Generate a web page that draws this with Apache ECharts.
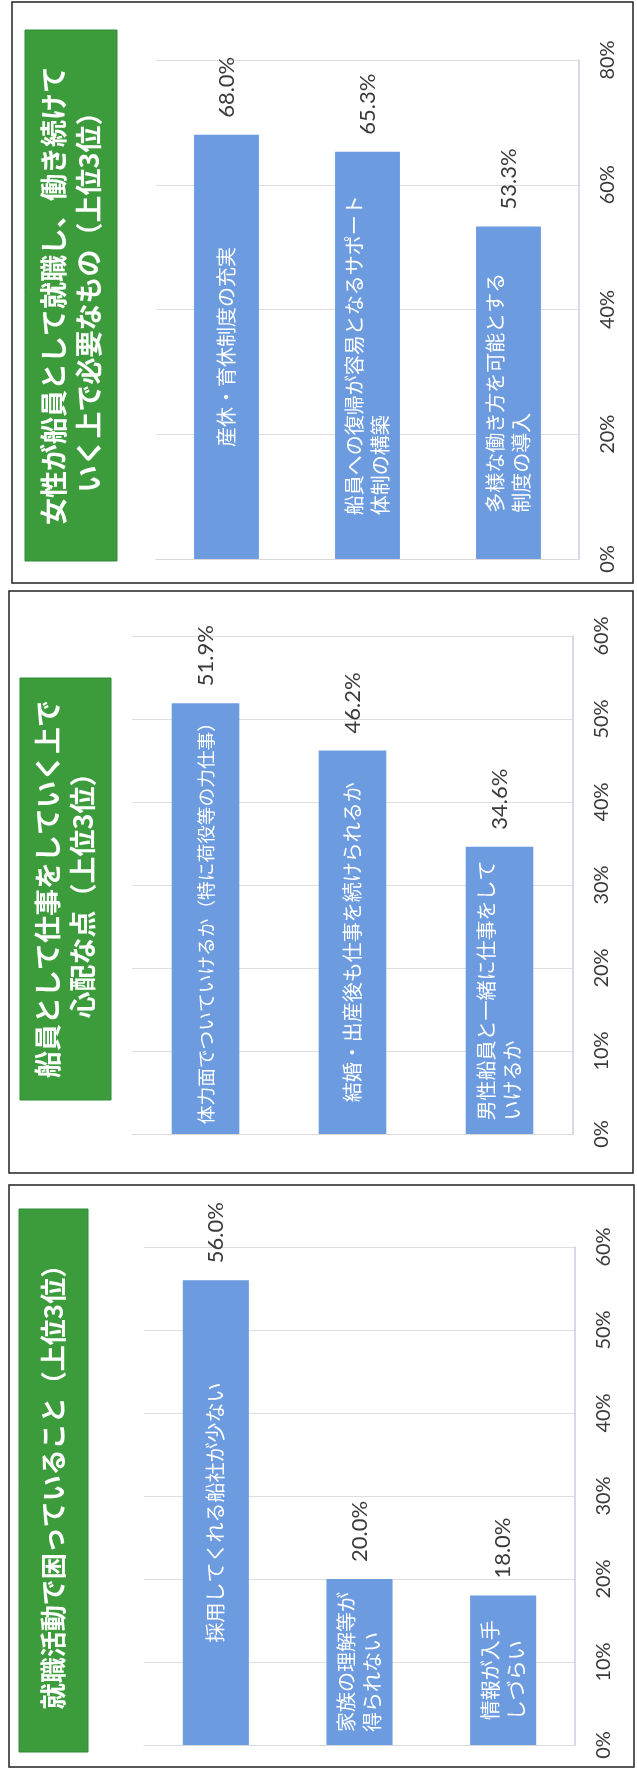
<!DOCTYPE html>
<html>
<head>
<meta charset="utf-8">
<script src="https://cdn.jsdelivr.net/npm/echarts@6/dist/echarts.min.js"></script>
<style>
html,body{margin:0;padding:0;background:#ffffff;}
#chart{width:637px;height:1775px;}
</style>
</head>
<body>
<div id="chart"></div>
<script>
// ---------- data ----------
const panel1Title = '女性が船員として就職し、働き続けて\nいく上で必要なもの（上位3位）';
const panel1Categories = ['産休・育休制度の充実', '船員への復帰が容易となるサポート\n体制の構築', '多様な働き方を可能とする\n制度の導入'];
const panel1Values = [68.0, 65.3, 53.3];
const panel1AxisMax = 80, panel1AxisStep = 20;

const panel2Title = '船員として仕事をしていく上で\n心配な点（上位3位）';
const panel2Categories = ['体力面でついていけるか（特に荷役等の力仕事）', '結婚・出産後も仕事を続けられるか', '男性船員と一緒に仕事をして\nいけるか'];
const panel2Values = [51.9, 46.2, 34.6];
const panel2AxisMax = 60, panel2AxisStep = 10;

const panel3Title = '就職活動で困っていること（上位3位）';
const panel3Categories = ['採用してくれる船社が少ない', '家族の理解等が\n得られない', '情報が入手\nしづらい'];
const panel3Values = [56.0, 20.0, 18.0];
const panel3AxisMax = 60, panel3AxisStep = 10;

// ---------- layout / style ----------
const W = 637, H = 1775;
const layout = [
  { border: [12, 2, 621, 581], box: [25, 30, 92, 531], titleSize: 27, grid: { left: 156, right: 58, top: 60, bottom: H - 559 } },
  { border: [9, 591, 624, 582], box: [20, 678, 91, 422], titleSize: 27, grid: { left: 132, right: 64, top: 636, bottom: H - 1134 } },
  { border: [9, 1185, 625, 582], box: [19, 1209, 69, 543], titleSize: 26, grid: { left: 144, right: 62, top: 1247, bottom: H - 1745 } }
];
const panels = [
  { title: panel1Title, cats: panel1Categories, vals: panel1Values, max: panel1AxisMax, step: panel1AxisStep },
  { title: panel2Title, cats: panel2Categories, vals: panel2Values, max: panel2AxisMax, step: panel2AxisStep },
  { title: panel3Title, cats: panel3Categories, vals: panel3Values, max: panel3AxisMax, step: panel3AxisStep }
];

const BAR_COLOR = '#6c9be0';
const GREEN = '#3c9c3c';
const CAT_FONT_SIZE = 20;
const CAT_FONT = '"Noto Sans CJK JP", sans-serif';
const NUM_FONT = 'Lato, "Open Sans", sans-serif';

const measureCanvas = document.createElement('canvas').getContext('2d');
function longestLine(text, size) {
  measureCanvas.font = size + 'px ' + CAT_FONT;
  return Math.max.apply(null, text.split('\n').map(l => measureCanvas.measureText(l).width));
}

const grids = [], xAxes = [], yAxes = [], series = [], graphics = [];

panels.forEach((p, i) => {
  const L = layout[i];
  grids.push(Object.assign({ containLabel: false }, L.grid));
  const gridH = H - L.grid.top - L.grid.bottom;

  xAxes.push({
    type: 'category', gridIndex: i, data: p.cats,
    axisTick: { show: false }, axisLabel: { show: false },
    axisLine: { show: true, lineStyle: { color: '#d9d9d9', width: 1 } }
  });
  yAxes.push({
    type: 'value', gridIndex: i, position: 'right', min: 0, max: p.max, interval: p.step,
    axisLine: { show: true, lineStyle: { color: '#c9cbe9', width: 1.5 } },
    axisTick: { show: false },
    splitLine: { show: true, lineStyle: { color: '#dedede', width: 1 } },
    axisLabel: {
      show: true, rotate: 90, margin: 19, align: 'center', verticalAlign: 'top',
      formatter: '{value}%', fontSize: 20, color: '#3a3a3a', fontFamily: NUM_FONT
    }
  });

  // bars with category text inside, centred along each bar (font shrinks to fit if needed)
  series.push({
    type: 'bar', xAxisIndex: i, yAxisIndex: i,
    barGap: '-100%', barCategoryGap: '54%',
    itemStyle: { color: BAR_COLOR },
    data: p.vals.map((v, k) => {
      const barLen = v / p.max * gridH;
      let size = CAT_FONT_SIZE;
      let w = longestLine(p.cats[k], size);
      if (w > barLen - 18) { size = Math.floor(size * (barLen - 18) / w * 10) / 10; w = longestLine(p.cats[k], size); }
      const d = Math.max(4, (barLen - w) / 2);
      return { value: v, label: { distance: d, fontSize: size } };
    }),
    label: {
      show: true, position: 'insideBottom', rotate: 90, align: 'left', verticalAlign: 'middle',
      formatter: prm => p.cats[prm.dataIndex],
      color: '#ffffff', fontSize: CAT_FONT_SIZE, lineHeight: 26, fontFamily: CAT_FONT
    },
    silent: true
  });
  // value labels above the bars
  series.push({
    type: 'bar', xAxisIndex: i, yAxisIndex: i,
    barGap: '-100%', barCategoryGap: '54%',
    itemStyle: { color: 'rgba(0,0,0,0)' },
    data: p.vals,
    label: {
      show: true, position: 'top', distance: 17, rotate: 90, align: 'left', verticalAlign: 'middle',
      formatter: prm => prm.value.toFixed(1) + '%',
      color: '#3a3a3a', fontSize: 22, fontFamily: NUM_FONT
    },
    silent: true
  });

  // panel frame
  graphics.push({
    type: 'rect', shape: { x: L.border[0], y: L.border[1], width: L.border[2], height: L.border[3] },
    style: { fill: 'none', stroke: '#222222', lineWidth: 1.5 }, z: 10
  });
  // green title box
  graphics.push({
    type: 'rect', shape: { x: L.box[0], y: L.box[1], width: L.box[2], height: L.box[3] },
    style: { fill: GREEN, stroke: '#2f8a36', lineWidth: 1 }, z: 10
  });
  graphics.push({
    type: 'text', x: L.box[0] + L.box[2] / 2, y: L.box[1] + L.box[3] / 2, rotation: Math.PI / 2, z: 11,
    style: {
      text: p.title, fill: '#ffffff', align: 'center', verticalAlign: 'middle',
      font: 'bold ' + L.titleSize + 'px "Noto Sans CJK JP", sans-serif', lineHeight: 35
    }
  });
});

const chart = echarts.init(document.getElementById('chart'), null, { renderer: 'canvas', width: W, height: H });
chart.setOption({
  animation: false,
  backgroundColor: '#ffffff',
  grid: grids, xAxis: xAxes, yAxis: yAxes, series: series, graphic: graphics
});
</script>
</body>
</html>
